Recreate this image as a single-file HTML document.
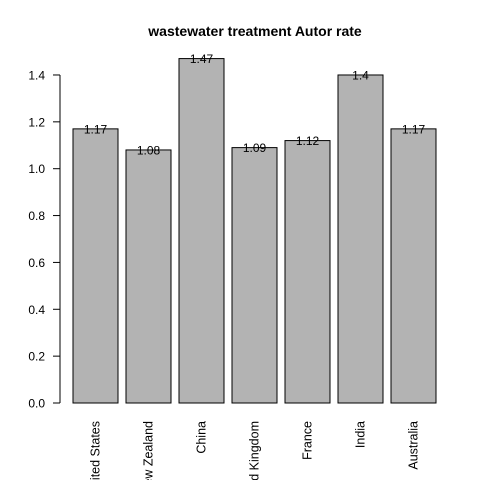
<!DOCTYPE html>
<html><head><meta charset="utf-8"><style>
html,body{margin:0;padding:0;background:#fff;width:480px;height:480px;overflow:hidden;}
svg{display:block;font-family:"Liberation Sans",Arial,sans-serif;overflow:hidden;}
</style></head><body>
<svg id="chart" width="480" height="480" viewBox="0 0 480 480">
<defs><clipPath id="frame"><rect x="0" y="0" width="480" height="480"/></clipPath></defs>
<text x="255" y="36" text-anchor="middle" font-size="14" font-weight="bold">wastewater treatment Autor rate</text>
<g id="yaxis"></g>
<g id="bars"></g>
<g id="xlabels" clip-path="url(#frame)"></g>
</svg>
<script>
const categories = ["United States","New Zealand","China","United Kingdom","France","India","Australia"];
const values = [1.17,1.08,1.47,1.09,1.12,1.4,1.17];
const valueLabels = ["1.17","1.08","1.47","1.09","1.12","1.4","1.17"];
const yTicks = [0,0.2,0.4,0.6,0.8,1.0,1.2,1.4];
const yTickLabels = ["0.0","0.2","0.4","0.6","0.8","1.0","1.2","1.4"];

const NS="http://www.w3.org/2000/svg";
const y0=403, pxPerUnit=234.3;
function yScale(v){return y0-v*pxPerUnit;}
const barStart=73, barW=45, step=53;
function xScale(i){return barStart+i*step;}
function mk(tag,attrs,parent){const e=document.createElementNS(NS,tag);for(const k in attrs)e.setAttribute(k,attrs[k]);parent.appendChild(e);return e;}

const ya=document.getElementById('yaxis');
const axisLine=mk('line',{x1:60,x2:60,y1:yScale(yTicks[0]),y2:yScale(yTicks[yTicks.length-1]),stroke:'#000'},ya);


yTicks.forEach((t,i)=>{
  const y=yScale(t);
  const tk=mk('line',{x1:53,x2:60,y1:y,y2:y,stroke:'#000'},ya);
  
  
  const tx=mk('text',{x:45,y:y+4.5,'text-anchor':'end','font-size':12},ya);
  tx.textContent=yTickLabels[i];
  
  
});

const bg=document.getElementById('bars');
const xl=document.getElementById('xlabels');
values.forEach((v,i)=>{
  const x=xScale(i), top=yScale(v);
  const r=mk('rect',{x:x,y:top,width:barW,height:y0-top,fill:'#b3b3b3',stroke:'#000','stroke-width':1},bg);
  
  
  const t=mk('text',{x:x+barW/2,y:top+4.5,'text-anchor':'middle','font-size':12},bg);
  t.textContent=valueLabels[i];
  
  
  const cx=x+barW/2+4, ty=421;
  const l=mk('text',{x:cx,y:ty,'text-anchor':'end','font-size':12.5,transform:'rotate(-90 '+cx+' '+ty+')'},xl);
  l.textContent=categories[i];
  
  
});
</script>
</body></html>
